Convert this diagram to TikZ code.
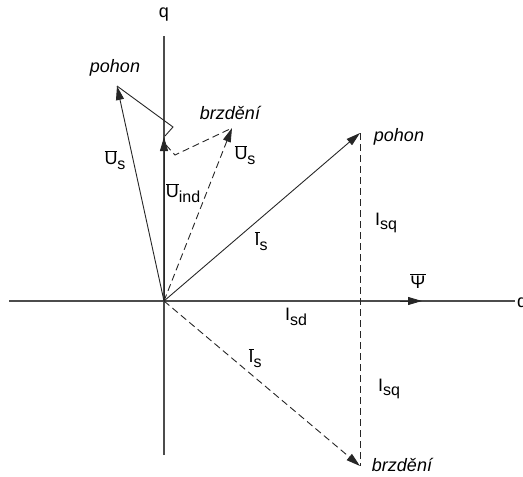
\documentclass[tikz,border=0pt]{standalone}
\usepackage{fontspec}
\setmainfont{Liberation Sans}
\usetikzlibrary{arrows.meta}
\newcommand{\ovl}[1]{$\overline{\mbox{#1}}$}
\newcommand{\sbs}[1]{\raisebox{-0.5ex}{\fontsize{16}{16}\selectfont #1}}

\begin{document}
\begin{tikzpicture}[x=1pt, y=-1pt,
  axis/.style={black!70, line width=1.4pt},
  vec/.style={black!85, line width=0.9pt, -{Triangle[length=14pt,width=8pt]}},
  aux/.style={black!85, line width=0.9pt, dash pattern=on 7pt off 4pt},
  lab/.style={font=\fontsize{18}{21}\selectfont, inner sep=0pt},
  mode/.style={font=\fontsize{18}{21}\selectfont\itshape, inner sep=0pt}]
  \useasboundingbox (0,0) rectangle (523,477);

  % axes
  \coordinate (O) at (164,301);
  \coordinate (qtop) at (164,36);
  \coordinate (qbot) at (164,455);
  \coordinate (dleft) at (9,301);
  \coordinate (dright) at (515,301);
  \draw[axis] (qbot) -- (qtop);
  \draw[axis] (dleft) -- (dright);
  \node[lab] (q) at (164,15) {q};
  \node[lab, anchor=west] (d) at (517,301) {d};

  % flux
  \coordinate (psi0) at (400,301);
  \coordinate (psi) at (422,301);
  \draw[vec] (psi0) -- (psi);
  \node[lab] (psiL) at (418,281) {\ovl{Ψ}};

  % voltages
  \coordinate (Uind) at (164,137);
  \coordinate (Usp) at (117,86);
  \coordinate (kp) at (173,127);
  \coordinate (kpe) at (165,136);
  \coordinate (Usb) at (232,128);
  \coordinate (kb) at (175,155);
  \coordinate (kbs) at (166,145);
  \draw[vec] (O) -- (Usp);
  \draw[vec] (O) -- (Uind);
  \draw[vec, aux] (O) -- (Usb);
  \draw[black!85, line width=0.9pt] (Usp) -- (kp) -- (kpe);
  \draw[aux] (kbs) -- (kb) -- (Usb);
  \node[lab] (UsL) at (115,160) {\ovl{U}\sbs{s}};
  \node[lab] (UindL) at (183,193) {\ovl{U}\sbs{ind}};
  \node[lab] (UsbL) at (245,155) {\ovl{U}\sbs{s}};

  % currents
  \coordinate (Isp) at (360,133);
  \coordinate (Isb) at (360,466);
  \draw[vec] (O) -- (Isp);
  \draw[vec, aux] (O) -- (Isb);
  \draw[aux] (Isp) -- (Isb);
  \node[lab] (IspL) at (261,241) {\ovl{I}\sbs{s}};
  \node[lab] (IsbL) at (255,358) {\ovl{I}\sbs{s}};
  \node[lab] (IsqA) at (386,223) {I\sbs{sq}};
  \node[lab] (IsqB) at (389,389) {I\sbs{sq}};
  \node[lab] (Isd) at (296,317) {I\sbs{sd}};

  % modes
  \node[mode] (pohonU) at (115,68) {pohon};
  \node[mode] (brzdU) at (230,113) {brzdění};
  \node[mode] (pohonI) at (399,137) {pohon};
  \node[mode] (brzdI) at (402,465) {brzdění};
\end{tikzpicture}
\end{document}
